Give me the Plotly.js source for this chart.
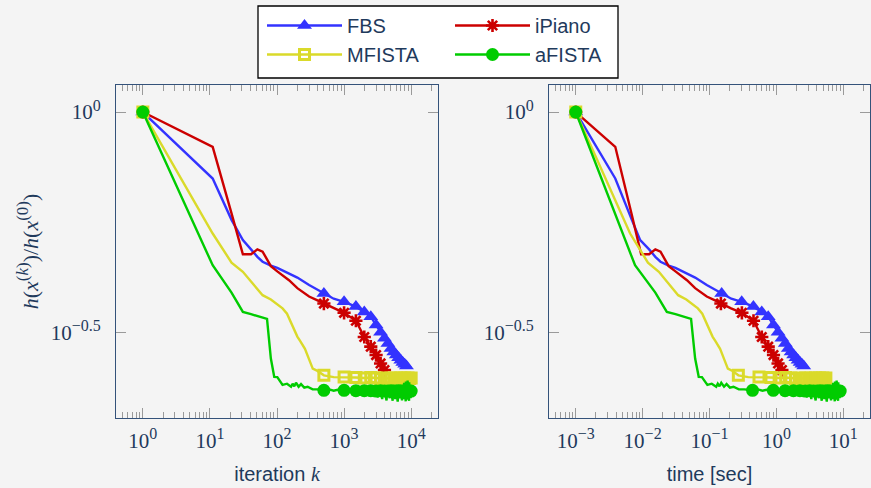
<!DOCTYPE html>
<html><head><meta charset="utf-8">
<script src="https://cdn.plot.ly/plotly-3.0.1.min.js"></script>
<style>html,body{margin:0;padding:0;background:#f4f4f4;} #chart{width:871px;height:488px;}</style>
</head><body><div id="chart"></div>
<script>
// ---------------- data ----------------
const fbsK = [1, 11, 21, 31, 41, 51, 61, 81, 101, 151, 201, 301, 401, 500, 700, 1000, 1500, 2000, 2500, 3000, 3500, 4000, 4500, 5000, 5500, 6000, 6500, 7000, 7500, 8000, 8500];
const fbsH = [1, 0.7063, 0.5689, 0.5117, 0.4875, 0.4688, 0.4571, 0.4477, 0.4426, 0.4305, 0.4207, 0.4046, 0.3945, 0.3873, 0.3767, 0.3707, 0.3614, 0.3516, 0.3428, 0.3281, 0.3162, 0.3062, 0.2979, 0.2904, 0.2851, 0.2805, 0.2767, 0.2729, 0.2698, 0.2673, 0.2649];
const fbsT = [0.001, 0.0039, 0.0069, 0.0092, 0.0125, 0.0155, 0.0185, 0.0245, 0.031, 0.046, 0.061, 0.091, 0.121, 0.152, 0.212, 0.303, 0.453, 0.604, 0.755, 0.905, 1.06, 1.21, 1.36, 1.51, 1.66, 1.81, 1.96, 2.11, 2.26, 2.41, 2.56];

const ipK = [1, 11, 21, 31, 41, 51, 61, 71, 81, 101, 151, 201, 301, 401, 500, 700, 1000, 1500, 2000, 2500, 3000, 3500, 4000, 4400];
const ipH = [1, 0.8337, 0.5888, 0.4753, 0.4753, 0.4875, 0.4819, 0.4634, 0.4467, 0.4345, 0.4150, 0.3981, 0.3811, 0.3733, 0.3673, 0.3581, 0.3499, 0.3357, 0.3083, 0.2931, 0.2805, 0.2685, 0.2594, 0.2535];
const ipT = [0.001, 0.0039, 0.0068, 0.0095, 0.0125, 0.0155, 0.0185, 0.0215, 0.0245, 0.031, 0.046, 0.061, 0.091, 0.121, 0.148, 0.21, 0.305, 0.455, 0.605, 0.755, 0.905, 1.06, 1.21, 1.35];

const mfK = [1, 11, 21, 31, 41, 51, 61, 81, 101, 121, 141, 171, 201, 221, 261, 301, 341, 401, 500, 700, 1000, 1500, 2000, 2500, 3000, 3500, 4000, 4500, 5000, 5500, 6000, 6500, 7000, 7500, 8000, 8500, 9000, 9500, 10000];
const mfH = [1, 0.5297, 0.4550, 0.4335, 0.4121, 0.3963, 0.3837, 0.3750, 0.3664, 0.3581, 0.3483, 0.3251, 0.3090, 0.3020, 0.2897, 0.2742, 0.2612, 0.2582, 0.2523, 0.2500, 0.2500, 0.2495, 0.2489, 0.2495, 0.2489, 0.2483, 0.2489, 0.2483, 0.2489, 0.2483, 0.2489, 0.2483, 0.2489, 0.2483, 0.2489, 0.2483, 0.2489, 0.2483, 0.2489];
const mfT = [0.001, 0.0065, 0.012, 0.0175, 0.023, 0.0285, 0.034, 0.045, 0.056, 0.067, 0.078, 0.095, 0.111, 0.122, 0.144, 0.166, 0.188, 0.221, 0.27, 0.38, 0.55, 0.83, 1.10, 1.38, 1.65, 1.93, 2.2, 2.48, 2.75, 3.03, 3.3, 3.58, 3.85, 4.13, 4.4, 4.68, 4.95, 5.23, 5.5];

const afK = [1, 11, 21, 31, 41, 51, 61, 71, 81, 91, 101, 121, 141, 162, 171, 181, 192, 210, 228, 255, 286, 340, 403,
  500, 600, 700, 800, 900, 1000, 1200, 1400, 1500, 1700, 1900, 2000, 2150, 2200, 2400, 2500, 2700, 2750, 3000, 3200, 3250,
  3500, 3700, 3750, 4000, 4300, 4350, 4500, 4800, 4850, 5000, 5300, 5350, 5500, 5800, 5850, 6000, 6300, 6350, 6500, 6800, 6850,
  7000, 7300, 7350, 7400, 7500, 7800, 7850, 7900, 8000, 8300, 8350, 8400, 8500, 8800, 8850, 8900, 9000, 9300, 9350, 9400,
  9500, 9800, 9850, 9900, 10000];
const afH = [1, 0.4487, 0.3890, 0.3516, 0.3475, 0.3443, 0.3420, 0.3388, 0.2754, 0.2503, 0.2500, 0.2399, 0.2415, 0.2377, 0.2415, 0.2382, 0.2427, 0.2377, 0.2410, 0.2366, 0.2377, 0.2344, 0.2344,
  0.2333, 0.2344, 0.2328, 0.2339, 0.2323, 0.2333, 0.2323, 0.2339, 0.2328, 0.2312, 0.2333, 0.2328, 0.2280, 0.2328, 0.2317, 0.2328, 0.2265, 0.2328, 0.2323, 0.2249, 0.2323,
  0.2328, 0.2228, 0.2323, 0.2323, 0.2213, 0.2323, 0.2323, 0.2239, 0.2323, 0.2328, 0.2208, 0.2323, 0.2323, 0.2228, 0.2323, 0.2323, 0.2198, 0.2323, 0.2328, 0.2239, 0.2323,
  0.2323, 0.2213, 0.2399, 0.2323, 0.2323, 0.2228, 0.2427, 0.2323, 0.2323, 0.2203, 0.2443, 0.2323, 0.2323, 0.2223, 0.2455, 0.2323, 0.2323, 0.2208, 0.2432, 0.2323,
  0.2323, 0.2239, 0.2399, 0.2323, 0.2323];
const afT = [0.001, 0.0077, 0.0155, 0.023, 0.031, 0.038, 0.046, 0.053, 0.061, 0.069, 0.077, 0.093, 0.108, 0.126, 0.133, 0.141, 0.150, 0.165, 0.180, 0.202, 0.228, 0.275, 0.33,
  0.44, 0.53, 0.62, 0.71, 0.80, 0.9, 1.08, 1.26, 1.35, 1.53, 1.71, 1.8, 1.935, 1.98, 2.16, 2.25, 2.43, 2.475, 2.7, 2.88, 2.925,
  3.15, 3.33, 3.375, 3.6, 3.87, 3.915, 4.05, 4.32, 4.365, 4.5, 4.77, 4.815, 4.95, 5.22, 5.265, 5.4, 5.67, 5.715, 5.85, 6.12, 6.165,
  6.3, 6.57, 6.615, 6.66, 6.75, 7.02, 7.065, 7.11, 7.2, 7.47, 7.515, 7.56, 7.65, 7.92, 7.965, 8.01, 8.1, 8.37, 8.415, 8.46,
  8.55, 8.82, 8.865, 8.91, 9.0];

const seriesNames = ['FBS', 'iPiano', 'MFISTA', 'aFISTA'];
const xTickVals1 = [1, 10, 100, 1000, 10000];
const xExp1 = ['0', '1', '2', '3', '4'];
const xTickVals2 = [0.001, 0.01, 0.1, 1, 10];
const xExp2 = ['−3', '−2', '−1', '0', '1'];
const yTickVals = [1, 0.316228];
const yExp = ['0', '−0.5'];

// ---------------- styling ----------------
const W = 871, H = 488;
const NAVY = '#1f3a5c';
const AXIS = '#34527a';
const TICK = '#9a9a9a';
const BG = '#f4f4f4';
const SERIF = 'Liberation Serif, serif';
const SANS = 'Liberation Sans, Arial, sans-serif';

function pow10(e) { return '10<sup><span style="font-size:16px">' + e + '</span></sup>'; }

const styles = {
  FBS:    {color: '#3333ff', symbol: 'triangle-up', size: 13, open: false, lw: 0},
  iPiano: {color: '#cc0000', symbol: 'asterisk-open', size: 11, open: true, lw: 2.6},
  MFISTA: {color: '#dada2a', symbol: 'square-open', size: 10, open: true, lw: 3},
  aFISTA: {color: '#00cc00', symbol: 'circle', size: 13, open: false, lw: 0}
};

function isMark(k) { return k === 1 || k % 500 === 0; }

function trace(name, xs, ks, ys, xa, ya, legend, showlegend) {
  const s = styles[name];
  return {
    type: 'scatter', mode: 'lines+markers', name: name,
    x: xs, y: ys, xaxis: xa, yaxis: ya,
    legend: legend, showlegend: showlegend, legendgroup: name,
    line: {color: s.color, width: 2.4},
    marker: {
      symbol: s.symbol, size: s.size, opacity: 1,
      color: ks.map(k => isMark(k) ? s.color : 'rgba(0,0,0,0)'),
      line: {color: s.color, width: s.lw}
    },
    hoverinfo: 'skip'
  };
}

const data = [];
const legendOf = {FBS: 'legend', MFISTA: 'legend', iPiano: 'legend2', aFISTA: 'legend2'};
const src = {
  FBS: [fbsK, fbsH, fbsT], iPiano: [ipK, ipH, ipT], MFISTA: [mfK, mfH, mfT], aFISTA: [afK, afH, afT]
};
seriesNames.forEach(n => {
  const [k, h] = src[n];
  data.push(trace(n, k, k, h, 'x', 'y', legendOf[n], true));
});
seriesNames.forEach(n => {
  const [k, h, t] = src[n];
  data.push(trace(n, t, k, h, 'x2', 'y2', legendOf[n], false));
});

function minorVals(r) {
  const out = [];
  for (let d = Math.floor(r[0]); d <= Math.ceil(r[1]); d++) {
    for (let m = 2; m <= 9; m++) {
      const v = m * Math.pow(10, d);
      const lv = Math.log10(v);
      if (lv > r[0] && lv < r[1]) out.push(v);
    }
  }
  return out;
}

function xAxis(range, dom, tv, exps, title, anchor) {
  return {
    type: 'log', range: range, domain: dom, anchor: anchor,
    tickmode: 'array', tickvals: tv, ticktext: exps.map(pow10),
    ticks: 'inside', ticklen: 10, tickwidth: 1, tickcolor: TICK,
    showline: true, linecolor: AXIS, linewidth: 1, mirror: 'ticks',
    showgrid: false, zeroline: false, automargin: false,
    ticklabelstandoff: 4,
    tickfont: {family: SERIF, size: 21, color: NAVY},
    minor: {tickmode: 'array', tickvals: minorVals(range), ticks: 'inside', ticklen: 6, tickwidth: 1, tickcolor: TICK, showgrid: false},
    title: {text: title, font: {family: SANS, size: 20, color: NAVY}, standoff: 14}
  };
}
function yAxis(range, dom, anchor, title) {
  const a = {
    type: 'log', range: range, domain: dom, anchor: anchor,
    tickmode: 'array', tickvals: yTickVals, ticktext: yExp.map(pow10),
    ticks: 'inside', ticklen: 10, tickwidth: 1, tickcolor: TICK,
    showline: true, linecolor: AXIS, linewidth: 1, mirror: 'ticks',
    showgrid: false, zeroline: false, automargin: false,
    ticklabelstandoff: 10,
    tickfont: {family: SERIF, size: 21, color: NAVY}
  };
  if (title) a.title = {text: title, font: {family: SERIF, size: 22, color: NAVY}, standoff: 6};
  return a;
}

const yDom = [(H - 418) / H, (H - 85) / H];
const yRange = [-0.695, 0.0614];
const supS = '<span style="font-size:17px">';

const layout = {
  width: W, height: H,
  margin: {l: 0, r: 0, t: 0, b: 0},
  paper_bgcolor: BG, plot_bgcolor: BG,
  font: {family: SERIF, color: NAVY},
  xaxis: xAxis([-0.4, 4.4], [116 / W, 438 / W], xTickVals1, xExp1, 'iteration <span style="font-family:Liberation Serif"><i>k</i></span>', 'y'),
  yaxis: yAxis(yRange, yDom, 'x', '<i>h</i>(<i>x</i><sup>' + supS + '(<i>k</i>)</span></sup>)/<i>h</i>(<i>x</i><sup>' + supS + '(0)</span></sup>)'),
  xaxis2: xAxis([-3.4, 1.4], [549 / W, 870 / W], xTickVals2, xExp2, 'time [sec]', 'y2'),
  yaxis2: yAxis(yRange, yDom, 'x2', null),
  legend: {
    x: 262 / W, xanchor: 'left', y: 1 - 6 / H, yanchor: 'top',
    bgcolor: 'rgba(0,0,0,0)', borderwidth: 0,
    font: {family: SANS, size: 20, color: NAVY},
    itemwidth: 75, tracegroupgap: 0
  },
  legend2: {
    x: 450 / W, xanchor: 'left', y: 1 - 6 / H, yanchor: 'top',
    bgcolor: 'rgba(0,0,0,0)', borderwidth: 0,
    font: {family: SANS, size: 20, color: NAVY},
    itemwidth: 75, tracegroupgap: 0
  },
  shapes: [{
    type: 'rect', xref: 'paper', yref: 'paper', layer: 'above',
    x0: 258 / W, x1: 618 / W, y0: 1 - 78 / H, y1: 1 - 6 / H,
    line: {color: '#000000', width: 1.3}, fillcolor: '#ffffff'
  }]
};

Plotly.newPlot('chart', data, layout, {staticPlot: true, displayModeBar: false});
</script>
</body></html>
